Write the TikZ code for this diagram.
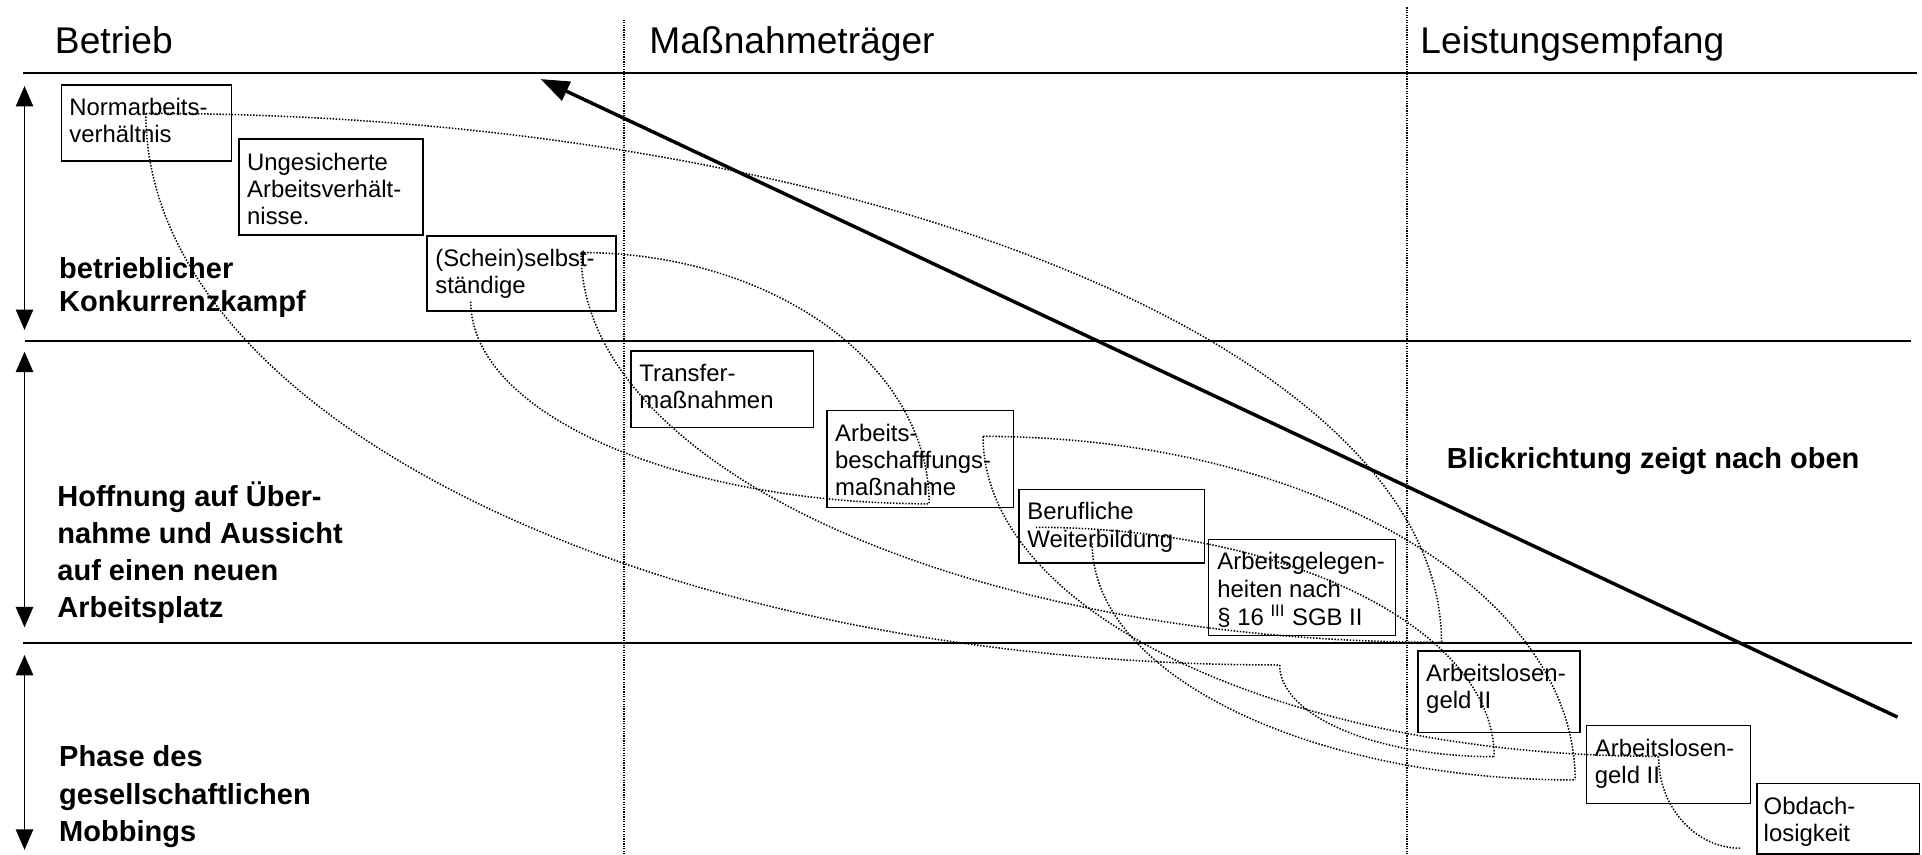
\documentclass[tikz,border=0pt]{standalone}
\usepackage{fontspec}
\setmainfont{Liberation Sans}
\usetikzlibrary{calc,arrows.meta,fit}
\newcommand{\UpArc}[2]{\draw[arcline] (#1) .. controls ($(#1)!0.5523!(#1 -| #2)$) and ($(#2)!0.5523!(#1 -| #2)$) .. (#2);}
\newcommand{\LowArc}[2]{\draw[arcline] (#1) .. controls ($(#1)!0.5523!(#1 |- #2)$) and ($(#2)!0.5523!(#1 |- #2)$) .. (#2);}
\newcommand{\Lines}[1]{\begin{tabular}[t]{@{}l@{}}#1\end{tabular}}
\begin{document}
\begin{tikzpicture}[x=0.6pt,y=-0.6pt,
  sepline/.style={line width=0.8pt},
  colline/.style={line width=0.75pt, dash pattern=on 0.6pt off 0.6pt},
  arcline/.style={line width=0.75pt, dash pattern=on 0.7pt off 0.8pt},
  boxs/.style={draw, line width=0.75pt, rectangle, inner sep=0pt, outer sep=0pt},
  boxtext/.style={anchor=base west, inner sep=0pt, font={\fontsize{11.7}{13.3}\selectfont}},
  head/.style={anchor=base west, inner sep=0pt, font={\fontsize{18.2}{21}\selectfont}},
  phasetext/.style={anchor=base west, inner sep=0pt, font={\fontsize{14.2}{18}\selectfont\bfseries}},
  phase/.style={line width=0.75pt, >={Triangle[length=10pt,width=8.5pt]}, <->},
  look/.style={line width=1.7pt, -{Triangle[length=14pt,width=10pt]}}
]
\useasboundingbox (0,0) rectangle (1568,697.5);

% column headers
\node[head] (hBetrieb) at (44.5,43.5) {Betrieb};
\node[head] (hMass) at (529.5,43.5) {Maßnahmeträger};
\node[head] (hLeist) at (1158.5,43.5) {Leistungsempfang};

% separators
\draw[sepline] (19,59.3) -- (1564,59.3);
\draw[sepline] (20,278.3) -- (1559,278.3);
\draw[sepline] (19,524.8) -- (1560,524.8);
\draw[colline] (509,16) -- (509,697.5);
\draw[colline] (1148,6) -- (1148,697.5);

% phase arrows
\coordinate (p1t) at (20,70.2);  \coordinate (p1b) at (20,269.2);
\coordinate (p2t) at (20,286.9); \coordinate (p2b) at (20,511.8);
\coordinate (p3t) at (20,534.3); \coordinate (p3b) at (20,693.3);
\draw[phase] (p1t) -- (p1b);
\draw[phase] (p2t) -- (p2b);
\draw[phase] (p3t) -- (p3b);

% phase labels
\node[phasetext, font={\fontsize{14.2}{16.3}\selectfont\bfseries}] (lab1) at (48,227.1) {\Lines{betrieblicher\\Konkurrenzkampf}};
\node[phasetext] (lab2) at (46.5,413.4) {\Lines{Hoffnung auf Über-\\nahme und Aussicht\\auf einen neuen\\Arbeitsplatz}};
\node[phasetext, font={\fontsize{14.2}{18.4}\selectfont\bfseries}] (lab3) at (48,625.5) {\Lines{Phase des\\gesellschaftlichen\\Mobbings}};
\node[phasetext] (lab4) at (1180,382) {Blickrichtung zeigt nach oben};

% arc end points
\coordinate (S1) at (119,92.5);
\coordinate (E1) at (1176,524);
\coordinate (C0) at (1044,542.5);
\coordinate (S2) at (474,206);
\coordinate (S3) at (384,246);
\coordinate (E2) at (758,411);
\coordinate (S5) at (802,356);
\coordinate (C2) at (1285,636.3);
\coordinate (C3) at (1353,617);
\coordinate (S6u) at (845,430.2);
\coordinate (S6l) at (891,443.2);
\coordinate (C1) at (1219,617.3);
\coordinate (E7) at (1420,692);

% dotted arcs
\UpArc{S1}{E1}
\LowArc{S1}{C0}
\UpArc{S2}{E2}
\LowArc{S2}{E1}
\LowArc{S3}{E2}
\UpArc{S5}{C2}
\LowArc{S5}{C3}
\UpArc{S6u}{C1}
\LowArc{S6l}{C2}
\LowArc{C0}{C1}
\LowArc{C3}{E7}

% boxes
\node[boxs, fit={(50,69.4) (189,131.4)}] (b1) {};
\node[boxs, fit={(195,113.4) (345,191.8)}] (b2) {};
\node[boxs, fit={(348.5,192.5) (502.5,253.8)}] (b3) {};
\node[boxs, fit={(514.8,286.3) (663.7,348.6)}] (b4) {};
\node[boxs, fit={(674.6,335) (826.8,413.9)}] (b5) {};
\node[boxs, fit={(831.4,399.5) (982.8,459.5)}] (b6) {};
\node[boxs, fit={(986,440) (1138.5,518.6)}] (b7) {};
\node[boxs, fit={(1157,531) (1289,597.7)}] (b8) {};
\node[boxs, fit={(1294.2,592) (1428.2,655.4)}] (b9) {};
\node[boxs, fit={(1433.2,639) (1566,696.5)}] (b10) {};

% box texts
\node[boxtext] (t1) at (56.3,93.9) {\Lines{Normarbeits-\\verhältnis}};
\node[boxtext] (t2) at (201.3,138.7) {\Lines{Ungesicherte\\Arbeitsverhält-\\nisse.}};
\node[boxtext] (t3) at (354.8,217.6) {\Lines{(Schein)selbst-\\ständige}};
\node[boxtext] (t4) at (521.3,311.3) {\Lines{Transfer-\\maßnahmen}};
\node[boxtext] (t5) at (681,360.3) {\Lines{Arbeits-\\beschafffungs-\\maßnahme}};
\node[boxtext] (t6) at (837.8,424.2) {\Lines{Berufliche\\Weiterbildung}};
\node[boxtext] (t7) at (992.8,465) {\Lines{Arbeitsgelegen-\\heiten nach\\§ 16 \textsuperscript{III} SGB II}};
\node[boxtext] (t8) at (1163.2,556.1) {\Lines{Arbeitslosen-\\geld II}};
\node[boxtext] (t9) at (1300.8,616.8) {\Lines{Arbeitslosen-\\geld II}};
\node[boxtext] (t10) at (1438.5,664.4) {\Lines{Obdach-\\losigkeit}};

% viewing direction arrow
\coordinate (lookTail) at (1548,585);
\coordinate (lookTip) at (441,64.5);
\draw[look] (lookTail) -- (lookTip);
\end{tikzpicture}
\end{document}
